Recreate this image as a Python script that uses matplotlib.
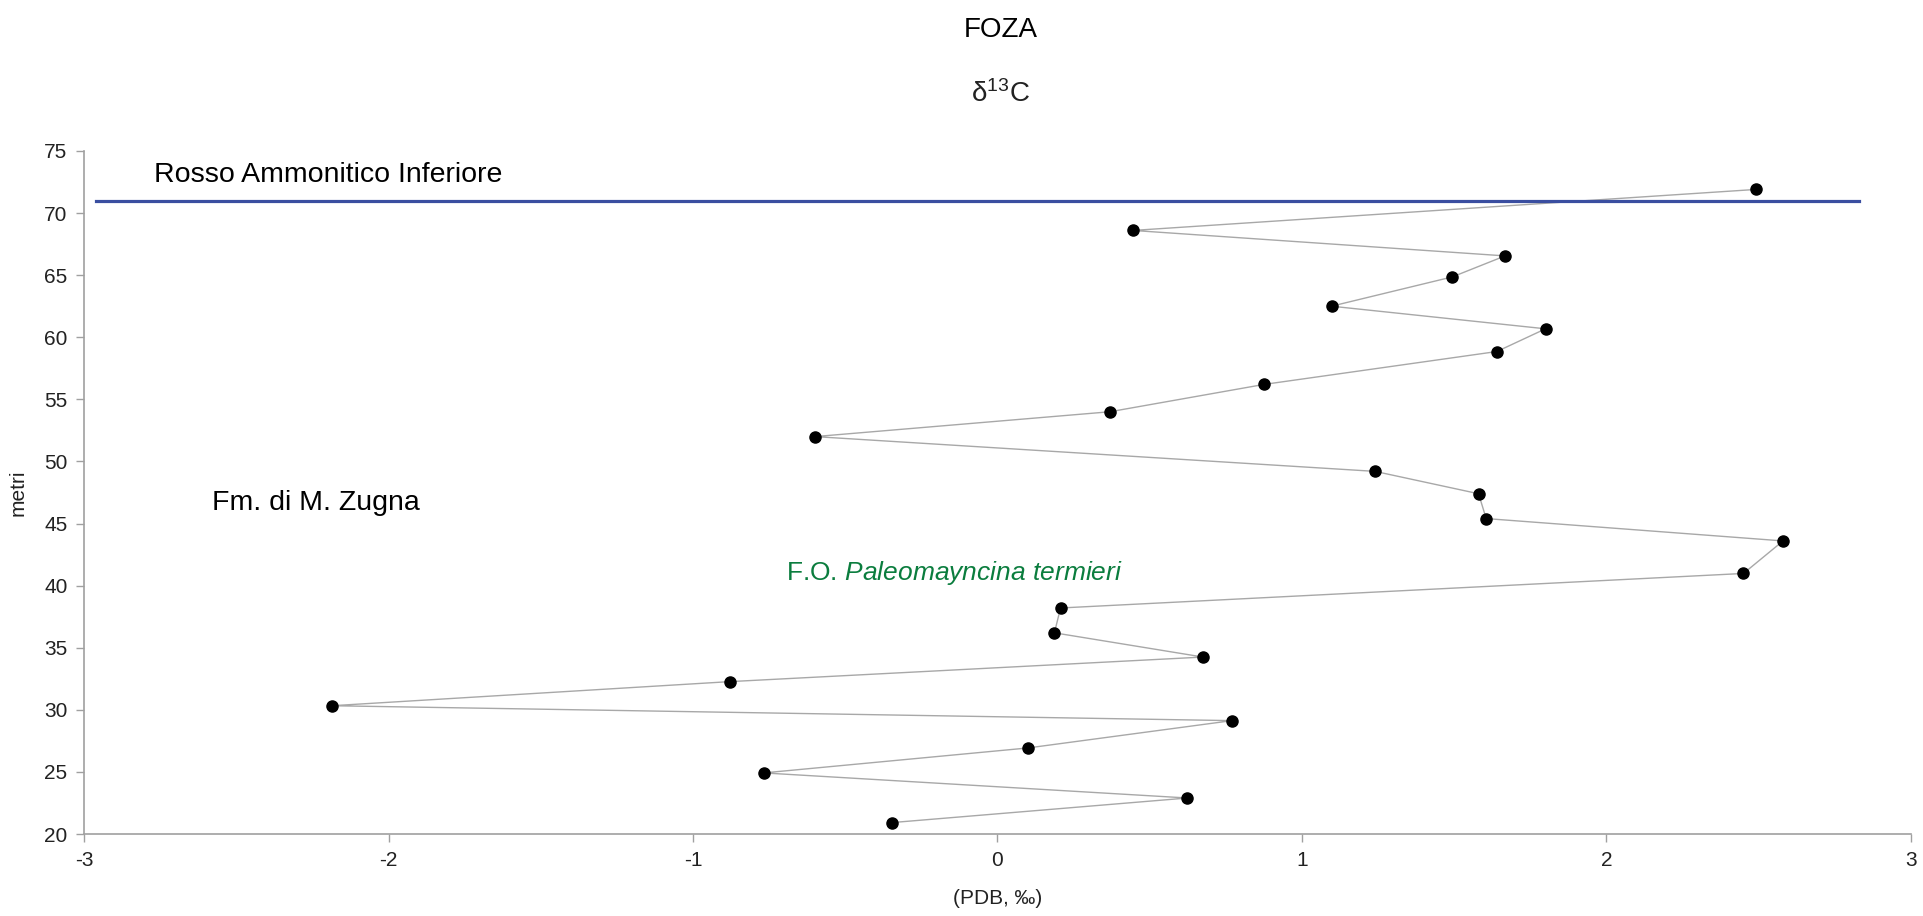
import matplotlib
matplotlib.use('Agg')
import matplotlib.pyplot as plt

plt.rcParams['font.family'] = ['Liberation Sans', 'DejaVu Sans']
plt.rcParams['mathtext.fontset'] = 'custom'
plt.rcParams['mathtext.rm'] = 'Liberation Sans'
plt.rcParams['mathtext.it'] = 'Liberation Sans:italic'
plt.rcParams['mathtext.default'] = 'regular'

# delta 13C values (PDB, permil) vs stratigraphic height (metri), top to bottom
metri = [71.9, 68.6, 66.55, 64.86, 62.5, 60.68, 58.85, 56.2, 54.0, 52.0,
         49.2, 47.4, 45.4, 43.6, 40.98, 38.2, 36.2, 34.25, 32.27, 30.33,
         29.13, 26.93, 24.92, 22.9, 20.92]
d13c = [2.49, 0.445, 1.667, 1.494, 1.097, 1.80, 1.64, 0.875, 0.369, -0.60,
        1.24, 1.58, 1.605, 2.58, 2.45, 0.207, 0.187, 0.675, -0.88, -2.186,
        0.77, 0.10, -0.768, 0.624, -0.347]

x_ticks = [-3, -2, -1, 0, 1, 2, 3]
y_ticks = [20, 25, 30, 35, 40, 45, 50, 55, 60, 65, 70, 75]

boundary_depth = 71  # Rosso Ammonitico Inferiore / Fm. di M. Zugna

fig = plt.figure(figsize=(19.24, 9.16), dpi=100)
ax = fig.add_axes([0.0437, 0.0895, 0.9495, 0.7457])

ax.plot(d13c, metri, color='#a8a8a8', lw=1.0, zorder=2)
ax.plot(d13c, metri, 'o', color='black', markersize=8, zorder=3)

# formation boundary
ax.plot([-2.96, 2.83], [boundary_depth, boundary_depth], color='#3a4ea0', lw=2.3, zorder=4)

ax.text(-2.77, 73.07, 'Rosso Ammonitico Inferiore', fontsize=20.5, va='center', ha='left')
ax.text(-2.58, 46.66, 'Fm. di M. Zugna', fontsize=20.5, va='center', ha='left')
ax.text(-0.696, 41.0, r'F.O. $\mathit{Paleomayncina\ termieri}$', fontsize=19,
        color='#0b7d3e', va='center', ha='left')

ax.set_xlim(-3, 3)
ax.set_ylim(20, 75)
ax.set_xticks(x_ticks)
ax.set_yticks(y_ticks)
ax.set_xticklabels([str(t) for t in x_ticks])
ax.tick_params(axis='both', labelsize=15, color='#a0a0a0', length=6, width=1, pad=6, labelcolor='#222222')

for side in ['top', 'right']:
    ax.spines[side].set_visible(False)
for side in ['left', 'bottom']:
    ax.spines[side].set_color('#a0a0a0')
    ax.spines[side].set_linewidth(1.2)

ax.set_xlabel('(PDB, ‰)', fontsize=15, color='#222222', labelpad=14)
ax.set_ylabel('metri', fontsize=15, color='#222222', labelpad=12)

fig.text(0.52, 0.967, 'FOZA', fontsize=20, ha='center', va='center')
fig.text(0.52, 0.897, 'δ$^{13}$C', fontsize=20, ha='center', va='center', color='#222222')

fig.savefig('out.png', dpi=100)
